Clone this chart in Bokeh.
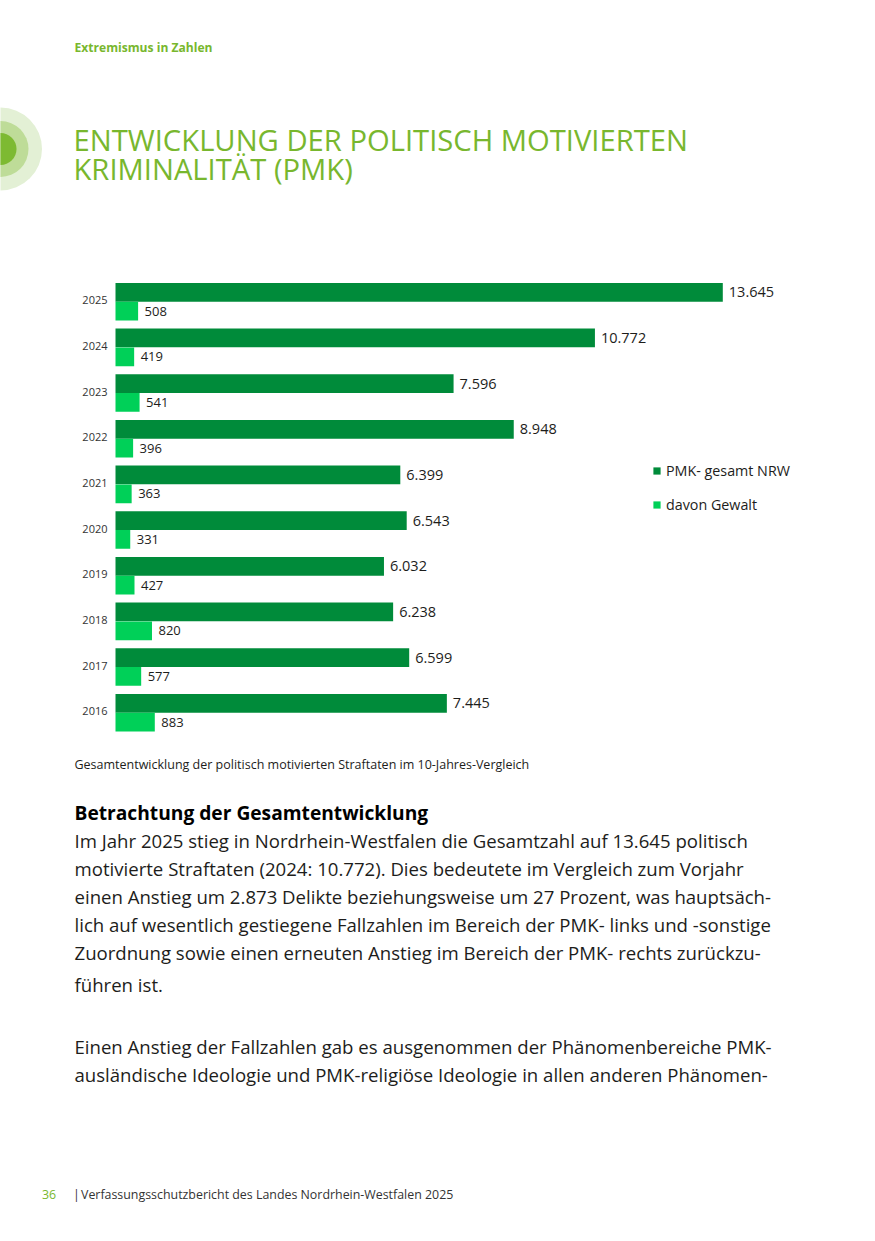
from bokeh.plotting import figure
from bokeh.models import Range1d, Legend, LegendItem, ColumnDataSource
from bokeh.core.properties import value
from bokeh.embed import file_html
from bokeh.resources import INLINE

# ---------------- data ----------------
years = ["2025", "2024", "2023", "2022", "2021", "2020", "2019", "2018", "2017", "2016"]
pmk_total = [13645, 10772, 7596, 8948, 6399, 6543, 6032, 6238, 6599, 7445]
pmk_violence = [508, 419, 541, 396, 363, 331, 427, 820, 577, 883]
series_names = ["PMK- gesamt NRW", "davon Gewalt"]

header_text = "Extremismus in Zahlen"
title_lines = ["ENTWICKLUNG DER POLITISCH MOTIVIERTEN", "KRIMINALITÄT (PMK)"]
caption_text = "Gesamtentwicklung der politisch motivierten Straftaten im 10-Jahres-Vergleich"
section_heading = "Betrachtung der Gesamtentwicklung"
paragraph_1 = [
    "Im Jahr 2025 stieg in Nordrhein-Westfalen die Gesamtzahl auf 13.645 politisch",
    "motivierte Straftaten (2024: 10.772). Dies bedeutete im Vergleich zum Vorjahr",
    "einen Anstieg um 2.873 Delikte beziehungsweise um 27 Prozent, was hauptsäch-",
    "lich auf wesentlich gestiegene Fallzahlen im Bereich der PMK- links und -sonstige",
    "Zuordnung sowie einen erneuten Anstieg im Bereich der PMK- rechts zurückzu-",
    "führen ist.",
]
paragraph_2 = [
    "Einen Anstieg der Fallzahlen gab es ausgenommen der Phänomenbereiche PMK-",
    "ausländische Ideologie und PMK-religiöse Ideologie in allen anderen Phänomen-",
]
page_number = "36"
footer_text = "Verfassungsschutzbericht des Landes Nordrhein-Westfalen 2025"

# ---------------- styles ----------------
FONT = value("Open Sans")
DARK = "#008B3A"
LIGHT = "#00D058"
GREEN = "#78B72E"
TEXT = "#1D1D1B"

W, H = 859, 1225
p = figure(width=W, height=H, x_range=Range1d(0, W), y_range=Range1d(H, 0),
           output_backend="svg", toolbar_location=None, min_border=0,
           x_axis_type=None, y_axis_type=None)
p.min_border_left = p.min_border_right = p.min_border_top = p.min_border_bottom = 0
p.outline_line_color = None
p.grid.visible = False
p.background_fill_color = "white"
p.border_fill_color = "white"

# chart scales (cases on x, row index on y)
X0 = 115.0
PX = 607.3 / 13645.0
Y0 = 301.2
PITCH = 45.67
p.extra_x_ranges = {"cases": Range1d((0 - X0) / PX, (W - X0) / PX)}
p.extra_y_ranges = {"row": Range1d((H - Y0) / PITCH, (0 - Y0) / PITCH)}

rows = list(range(len(years)))
OFF = 0.206
src = ColumnDataSource(dict(
    year=years, row=rows,
    total=pmk_total, violence=pmk_violence,
    row_t=[r - OFF for r in rows], row_v=[r + OFF for r in rows],
    lbl_t=[f"{v:,}".replace(",", ".") for v in pmk_total],
    lbl_v=[f"{v:,}".replace(",", ".") for v in pmk_violence],
))

r_total = p.hbar(y="row_t", left=0, right="total", height=0.41, fill_color=DARK,
                 line_color=None, source=src, x_range_name="cases", y_range_name="row")
r_viol = p.hbar(y="row_v", left=0, right="violence", height=0.41, fill_color=LIGHT,
                line_color=None, source=src, x_range_name="cases", y_range_name="row")

p.text(x="total", y="row_t", text="lbl_t", source=src, x_offset=6, text_baseline="middle",
       text_align="left", text_font=FONT, text_font_size="14.5px", text_color=TEXT,
       x_range_name="cases", y_range_name="row")
p.text(x="violence", y="row_v", text="lbl_v", source=src, x_offset=6.5, text_baseline="middle",
       text_align="left", text_font=FONT, text_font_size="13px", text_color=TEXT,
       x_range_name="cases", y_range_name="row")
p.text(x=0, y="row", text="year", source=src, x_offset=-8, y_offset=-1.5, text_baseline="middle",
       text_align="right", text_font=FONT, text_font_size="11px", text_color="#333333",
       x_range_name="cases", y_range_name="row")

legend = Legend(items=[LegendItem(label=series_names[0], renderers=[r_total]),
                       LegendItem(label=series_names[1], renderers=[r_viol])],
                location=(652, H - 514), orientation="vertical",
                glyph_width=9, glyph_height=9, label_standoff=5, spacing=15,
                label_text_font="Open Sans", label_text_font_size="14.3px", label_text_color=TEXT,
                padding=0, margin=0, border_line_color=None, background_fill_alpha=0)
p.add_layout(legend)

# ---------------- page decoration & text ----------------
for rad, col in [(41.5, "#E3F0D5"), (28, "#BEDC98"), (16, "#7DBA32")]:
    p.circle(x=[0], y=[148.5], radius=rad, fill_color=col, line_color=None)

def put(txt, x, y, size, color=TEXT, style="normal", align="left"):
    p.text(x=[x], y=[y], text=[txt], text_font=FONT, text_font_size=size,
           text_color=color, text_font_style=style, text_baseline="middle",
           text_align=align)

put(header_text, 74, 46.7, "12.1px", GREEN, "bold")
for i, line in enumerate(title_lines):
    put(line, 73, 139.5 + 28.6 * i, "29.2px", GREEN)
put(caption_text, 74, 763.5, "12.5px")
put(section_heading, 74, 811.5, "19.2px", "#000000", "bold")
for i, line in enumerate(paragraph_1):
    y = 840 + 28 * i
    if i == len(paragraph_1) - 1:
        y += 4
    put(line, 74, y, "18.6px")
for i, line in enumerate(paragraph_2):
    put(line, 74, 1046 + 28 * i, "18.6px")
put(page_number, 41.5, 1194, "12.4px", GREEN)
put("|", 72.5, 1194, "12.4px", "#333333")
put(footer_text, 80.5, 1194, "12.4px", "#333333")

open("out.html", "w").write(file_html(p, INLINE))
